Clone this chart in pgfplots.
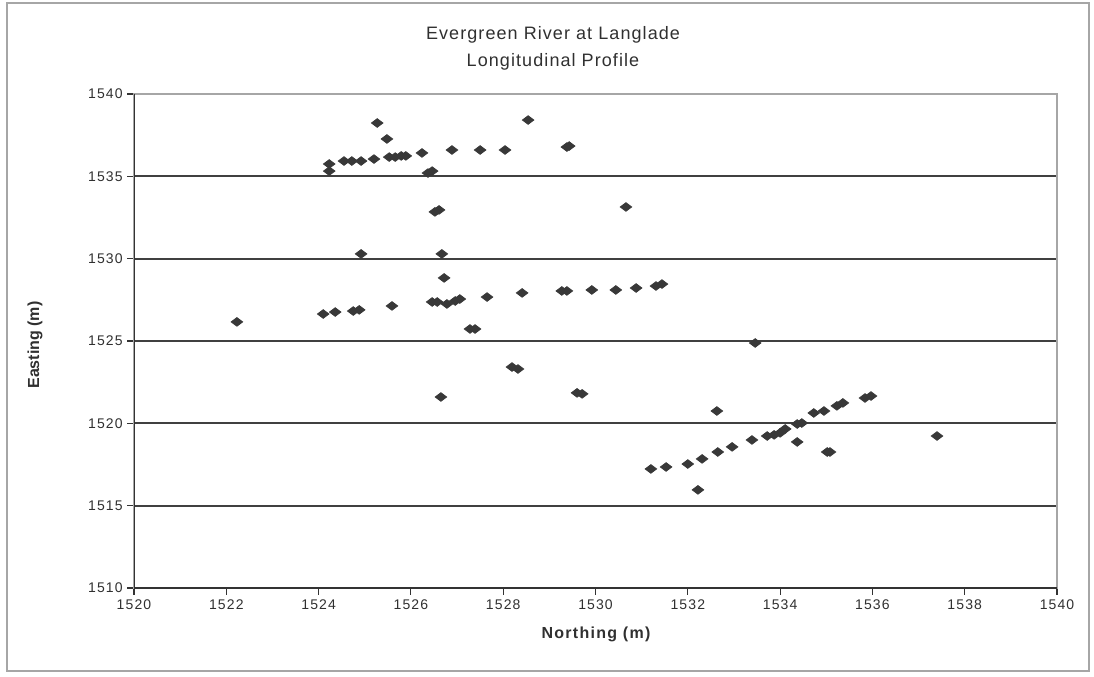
\documentclass[border=0pt]{standalone}
\usepackage{pgfplots}
\pgfplotsset{compat=1.18}
\usepackage{fontspec}
\setmainfont{Liberation Sans}
\definecolor{mk}{HTML}{383838}
\definecolor{tx}{HTML}{303030}
\begin{document}
\begin{tikzpicture}
\begin{scope}[x=0.75pt,y=-0.75pt]
\useasboundingbox (0,0) rectangle (1094,676);
\draw[gray!70, line width=1pt] (7,3) rectangle (1089,671);
\node[text=tx, font=\fontsize{13.5}{16}\selectfont\addfontfeature{LetterSpace=6}] at (553,35) {Evergreen River at Langlade};
\node[text=tx, font=\fontsize{13.5}{16}\selectfont\addfontfeature{LetterSpace=6}] at (553,62) {Longitudinal Profile};
\node[text=tx, font=\fontsize{12}{14}\selectfont\bfseries\addfontfeature{LetterSpace=8}] at (596,634) {Northing (m)};
\node[text=tx, rotate=90, font=\fontsize{12}{14}\selectfont\bfseries] at (35,345) {Easting (m)};
\end{scope}
\begin{axis}[
  at={(100.5pt,-441pt)}, anchor=south west,
  scale only axis, width=692.25pt, height=370.5pt,
  xmin=1520, xmax=1540, ymin=1510, ymax=1540,
  xtick distance=2, ytick distance=5,
  ymajorgrids,
  grid style={black!75, line width=1.3pt},
  axis line style={gray!70, line width=1pt},
  tick style={black!80, line width=0.8pt},
  tick align=outside, major tick length=5pt,
  xtick pos=bottom, ytick pos=left,
  ticklabel style={text=tx, font=\fontsize{10.5}{12}\selectfont\addfontfeature{LetterSpace=8}},
  /pgf/number format/.cd, 1000 sep={}, assume math mode=true,
]
\addplot[only marks, mark=diamond*, mark size=4.3pt, mark options={rotate=90, fill=mk, draw=mk, line width=0.6pt}] coordinates {
(1525.27,1538.24) (1525.48,1537.27) (1528.54,1538.42) (1529.43,1536.84) (1529.38,1536.78)
(1524.23,1535.75) (1524.23,1535.32) (1524.55,1535.93) (1524.72,1535.93) (1524.92,1535.93)
(1525.20,1536.05) (1525.53,1536.17) (1525.66,1536.17) (1525.79,1536.24) (1525.89,1536.24)
(1526.24,1536.42) (1526.89,1536.60) (1527.50,1536.60) (1528.04,1536.60)
(1526.37,1535.20) (1526.46,1535.32) (1526.52,1532.84) (1526.61,1532.96)
(1526.67,1530.29) (1524.92,1530.29) (1530.66,1533.14) (1526.72,1528.83)
(1522.23,1526.16) (1524.10,1526.64) (1524.36,1526.76) (1524.75,1526.82) (1524.88,1526.89)
(1525.59,1527.13) (1526.46,1527.37) (1526.57,1527.37) (1526.78,1527.25) (1526.96,1527.43) (1527.06,1527.55)
(1527.65,1527.67) (1528.41,1527.92) (1529.27,1528.04) (1529.38,1528.04) (1529.92,1528.10)
(1530.44,1528.10) (1530.88,1528.22) (1531.31,1528.34) (1531.44,1528.46)
(1527.28,1525.73) (1527.39,1525.73) (1528.19,1523.42) (1528.32,1523.30)
(1526.65,1521.60) (1529.60,1521.85) (1529.71,1521.79) (1533.46,1524.88)
(1531.20,1517.23) (1531.53,1517.35) (1532.00,1517.53) (1532.31,1517.84) (1532.22,1515.96)
(1532.65,1518.26) (1532.63,1520.75) (1532.96,1518.57) (1533.39,1518.99) (1533.72,1519.23)
(1533.87,1519.30) (1534.00,1519.42) (1534.11,1519.66) (1534.37,1519.96) (1534.47,1520.02)
(1534.37,1518.87) (1534.73,1520.63) (1534.95,1520.75) (1535.23,1521.06) (1535.36,1521.24)
(1535.84,1521.54) (1535.97,1521.66) (1535.02,1518.26) (1535.08,1518.26) (1537.40,1519.23)
};
\draw[black!80, line width=1pt] (rel axis cs:0,0) -- (rel axis cs:0,1);
\draw[black!80, line width=1pt] (rel axis cs:0,0) -- (rel axis cs:1,0);
\end{axis}
\end{tikzpicture}
\end{document}
